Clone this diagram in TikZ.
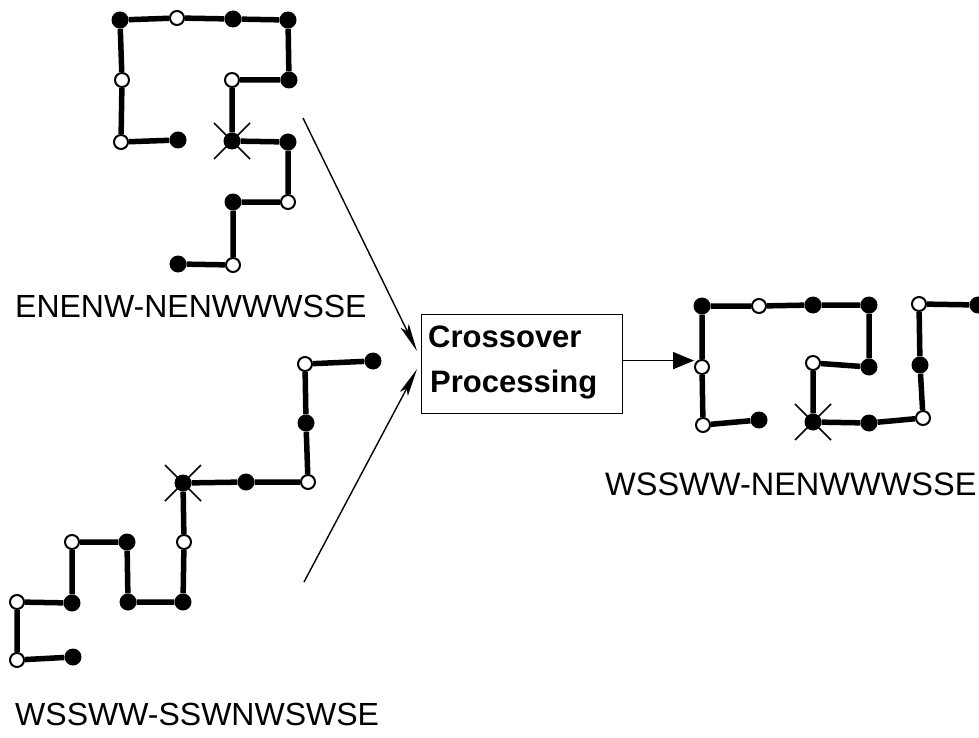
\documentclass[tikz,border=0pt]{standalone}
\usepackage{fontspec}
\setmainfont{Liberation Sans}
\usetikzlibrary{arrows.meta}
\begin{document}
\begin{tikzpicture}[x=1pt,y=-1pt,
  hn/.style={circle,fill=black,inner sep=0,minimum size=17pt},
  pn/.style={circle,draw=black,fill=white,line width=2pt,inner sep=0,minimum size=14pt},
  bond/.style={line width=5.5pt},
  xmark/.style={line width=1.7pt},
  lab/.style={anchor=base west,inner sep=0,font=\fontsize{32}{38}\selectfont},
  boxtxt/.style={anchor=base west,inner sep=0,font=\fontsize{31}{37}\selectfont\bfseries},
  feed/.style={line width=1.4pt,-{Stealth[length=28pt,width=9pt,inset=6pt]}},
  outarr/.style={line width=1.7pt,-{Triangle[length=21pt,width=17pt]}}]
\useasboundingbox (0,0) rectangle (979,738);

% ---------- top parent ----------
\node[hn] (t1) at (178,264) {};
\node[pn] (t2) at (233,265) {};
\node[hn] (t3) at (233,202) {};
\node[pn] (t4) at (288,202) {};
\node[hn] (t5) at (288,142) {};
\node[hn] (t6) at (232,141) {};
\node[pn] (t7) at (232,80) {};
\node[hn] (t8) at (289,80) {};
\node[hn] (t9) at (288,20) {};
\node[hn] (t10) at (233,19) {};
\node[pn] (t11) at (177,18) {};
\node[hn] (t12) at (120,20) {};
\node[pn] (t13) at (122,80) {};
\node[pn] (t14) at (121,142) {};
\node[hn] (t15) at (178,140) {};
\draw[bond] (t1)--(t2)--(t3)--(t4)--(t5)--(t6)--(t7)--(t8)--(t9)--(t10)--(t11)--(t12)--(t13)--(t14)--(t15);
\draw[xmark] ([shift={(-18,-18)}]t6.center) -- ([shift={(18,18)}]t6.center);
\draw[xmark] ([shift={(-18,18)}]t6.center) -- ([shift={(18,-18)}]t6.center);
\node[lab] (l1) at (15,317) {ENENW-NENWWWSSE};

% ---------- bottom parent ----------
\node[hn] (b1) at (373,361) {};
\node[pn] (b2) at (305,364) {};
\node[hn] (b3) at (306,423) {};
\node[pn] (b4) at (308,482) {};
\node[hn] (b5) at (246,482) {};
\node[hn] (b6) at (183,483) {};
\node[pn] (b7) at (184,542) {};
\node[hn] (b8) at (183,602) {};
\node[hn] (b9) at (128,602) {};
\node[hn] (b10) at (127,542) {};
\node[pn] (b11) at (72,542) {};
\node[hn] (b12) at (72,603) {};
\node[pn] (b13) at (17,602) {};
\node[pn] (b14) at (17,660) {};
\node[hn] (b15) at (73,657) {};
\draw[bond] (b1)--(b2)--(b3)--(b4)--(b5)--(b6)--(b7)--(b8)--(b9)--(b10)--(b11)--(b12)--(b13)--(b14)--(b15);
\draw[xmark] ([shift={(-18,-18)}]b6.center) -- ([shift={(18,18)}]b6.center);
\draw[xmark] ([shift={(-18,18)}]b6.center) -- ([shift={(18,-18)}]b6.center);
\node[lab] (l2) at (15,725) {WSSWW-SSWNWSWSE};

% ---------- offspring ----------
\node[hn] (r1) at (978,305) {};
\node[pn] (r2) at (919,304) {};
\node[hn] (r3) at (920,365) {};
\node[pn] (r4) at (923,418) {};
\node[hn] (r5) at (869,423) {};
\node[hn] (r6) at (813,422) {};
\node[pn] (r7) at (813,363) {};
\node[hn] (r8) at (869,367) {};
\node[hn] (r9) at (869,305) {};
\node[hn] (r10) at (813,305) {};
\node[pn] (r11) at (759,306) {};
\node[hn] (r12) at (702,306) {};
\node[pn] (r13) at (702,367) {};
\node[pn] (r14) at (703,425) {};
\node[hn] (r15) at (759,420) {};
\draw[bond] (r1)--(r2)--(r3)--(r4)--(r5)--(r6)--(r7)--(r8)--(r9)--(r10)--(r11)--(r12)--(r13)--(r14)--(r15);
\draw[xmark] ([shift={(-18,-18)}]r6.center) -- ([shift={(18,18)}]r6.center);
\draw[xmark] ([shift={(-18,18)}]r6.center) -- ([shift={(18,-18)}]r6.center);
\node[lab,font=\fontsize{32.5}{38}\selectfont] (l3) at (605,495) {WSSWW-NENWWWSSE};

% ---------- crossover box ----------
\node[draw,line width=1.2pt,minimum width=201pt,minimum height=99pt,inner sep=0,anchor=north west] (box) at (421,314) {};
\node[boxtxt] (c1) at (428,347) {Crossover};
\node[boxtxt] (c2) at (430,392) {Processing};

\coordinate (s1) at (303,118);
\coordinate (s2) at (304,582);
\draw[feed] (s1) -- ([xshift=-4pt,yshift=13pt]box.west);
\draw[feed] (s2) -- ([xshift=-4pt,yshift=-5pt]box.west);
\draw[outarr] ([yshift=3.5pt]box.east) -- ([yshift=3.5pt]box.east -| r13.west);
\end{tikzpicture}
\end{document}
